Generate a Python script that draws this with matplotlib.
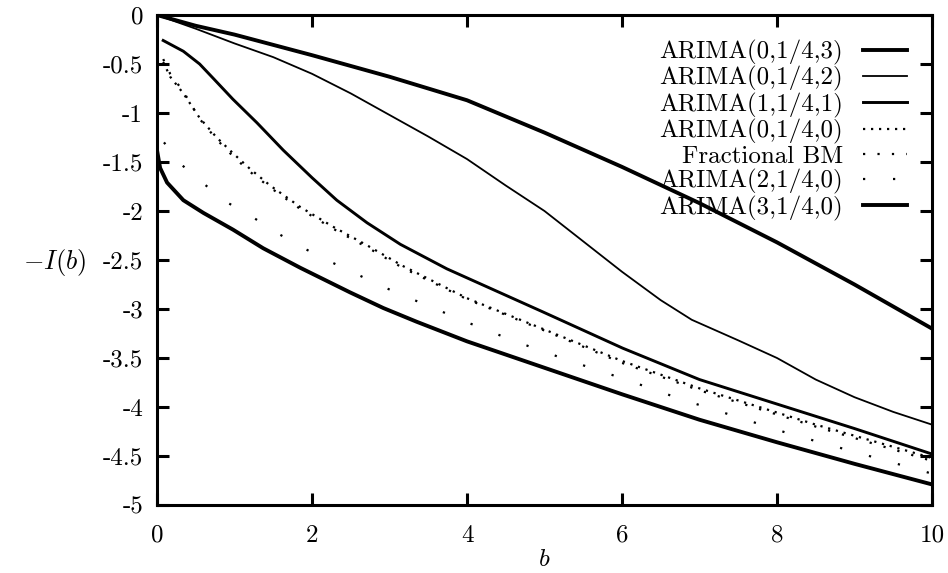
import matplotlib
matplotlib.use('Agg')
import matplotlib.pyplot as plt

# rate function curves
b_a = [0, 0.5, 1, 2, 3, 4, 5, 6, 7, 8, 9, 10]
y_a = [0, -0.11, -0.2, -0.41, -0.63, -0.87, -1.2, -1.55, -1.92, -2.32, -2.75, -3.2]

b_b = [0, 0.5, 1, 1.5, 2, 2.5, 3, 3.5, 4, 4.5, 5, 5.5, 6, 6.5, 6.9, 7.5, 8, 8.5, 9, 9.5, 10]
y_b = [0, -0.14, -0.29, -0.43, -0.6, -0.8, -1.02, -1.24, -1.47, -1.74, -2.0, -2.31, -2.62,
       -2.91, -3.11, -3.32, -3.5, -3.72, -3.9, -4.05, -4.18]

b_c = [0.08, 0.34, 0.55, 0.73, 0.98, 1.29, 1.63, 2.0, 2.32, 2.71, 3.14, 3.74, 4.98, 6.01,
       7.0, 8.0, 9.0, 10]
y_c = [-0.26, -0.37, -0.5, -0.65, -0.86, -1.1, -1.38, -1.66, -1.89, -2.12, -2.34, -2.59,
       -3.03, -3.4, -3.72, -3.97, -4.22, -4.48]

b_d = [0.08, 0.17, 0.34, 0.55, 0.77, 0.98, 1.2, 1.46, 1.85, 2.27, 2.71, 3.17, 4.0, 5.0,
       6.0, 7.0, 8.5, 10]
y_d = [-0.48, -0.63, -0.8, -1.05, -1.25, -1.41, -1.57, -1.74, -1.96, -2.16, -2.35, -2.56,
       -2.89, -3.21, -3.53, -3.81, -4.18, -4.52]
y_fbm = [-0.45, -0.6, -0.78, -1.06, -1.27, -1.44, -1.6, -1.76, -1.98, -2.18, -2.37, -2.58,
         -2.9, -3.22, -3.55, -3.83, -4.2, -4.55]

b_g = [0.09, 0.32, 0.6, 0.9, 1.23, 1.54, 1.87, 2.19, 2.54, 2.88, 3.23, 3.57, 3.92, 4.62,
       5.33, 6.05, 6.76, 7.48, 8.19, 8.92, 9.64, 10]
y_g = [-1.3, -1.53, -1.72, -1.91, -2.06, -2.22, -2.37, -2.5, -2.63, -2.76, -2.88, -2.99,
       -3.11, -3.33, -3.53, -3.72, -3.92, -4.1, -4.28, -4.44, -4.6, -4.68]

b_e = [0, 0.04, 0.13, 0.34, 0.6, 0.98, 1.37, 1.85, 2.49, 2.92, 3.35, 4.0, 5.0, 6.0,
       7.0, 8.0, 9.0, 10]
y_e = [-1.38, -1.56, -1.71, -1.89, -2.02, -2.19, -2.38, -2.58, -2.83, -2.99, -3.13,
       -3.33, -3.6, -3.87, -4.13, -4.36, -4.58, -4.79]

labels = ['ARIMA(0,1/4,3)', 'ARIMA(0,1/4,2)', 'ARIMA(1,1/4,1)', 'ARIMA(0,1/4,0)',
          'Fractional BM', 'ARIMA(2,1/4,0)', 'ARIMA(3,1/4,0)']

xticks = [0, 2, 4, 6, 8, 10]
xtick_labels = ['0', '2', '4', '6', '8', '10']
yticks = [0, -0.5, -1, -1.5, -2, -2.5, -3, -3.5, -4, -4.5, -5]
ytick_labels = ['0', '-0.5', '-1', '-1.5', '-2', '-2.5', '-3', '-3.5', '-4', '-4.5', '-5']

plt.rcParams['font.family'] = 'cmr10'
plt.rcParams['mathtext.fontset'] = 'cm'
plt.rcParams['axes.unicode_minus'] = False
plt.rcParams['axes.formatter.use_mathtext'] = True
plt.rcParams['font.size'] = 18

fig = plt.figure(figsize=(9.48, 5.73), dpi=100)
ax = fig.add_axes([157/948, 1-505/573, 775/948, 490/573])

ax.plot(b_a, y_a, color='black', lw=2.8, label=labels[0])
ax.plot(b_b, y_b, color='black', lw=1.3, label=labels[1])
ax.plot(b_c, y_c, color='black', lw=2.1, label=labels[2])
ax.plot(b_d, y_d, color='black', lw=1.6, linestyle=(0, (1, 2.6)), label=labels[3])
ax.plot(b_d, y_fbm, color='black', lw=1.6, linestyle=(0, (1, 5.5)), label=labels[4])
ax.plot(b_g, y_g, color='black', lw=1.6, linestyle=(0, (1, 12.5)), label=labels[5])
ax.plot(b_e, y_e, color='black', lw=2.8, label=labels[6])

ax.set_xlim(0, 10)
ax.set_ylim(-5, 0)
ax.set_xticks(xticks, xtick_labels)
ax.set_yticks(yticks, ytick_labels)
ax.tick_params(direction='in', length=8.5, width=2.2, top=True, right=True)
ax.tick_params(axis='x', pad=14)
ax.tick_params(axis='y', pad=10)
for sp in ax.spines.values():
    sp.set_linewidth(2.2)

ax.set_xlabel(r'$b$', labelpad=2)
fig.text(55/948, 1-262/573, r'$-I(b)$', ha='center', va='center', fontsize=19)

ax.legend(loc='upper right', bbox_to_anchor=((907-157)/775, (505-40)/490),
          frameon=False, markerfirst=False, handlelength=1.75, handletextpad=0.8,
          labelspacing=0.05, borderpad=0, borderaxespad=0)

fig.savefig('out.png', dpi=100)
